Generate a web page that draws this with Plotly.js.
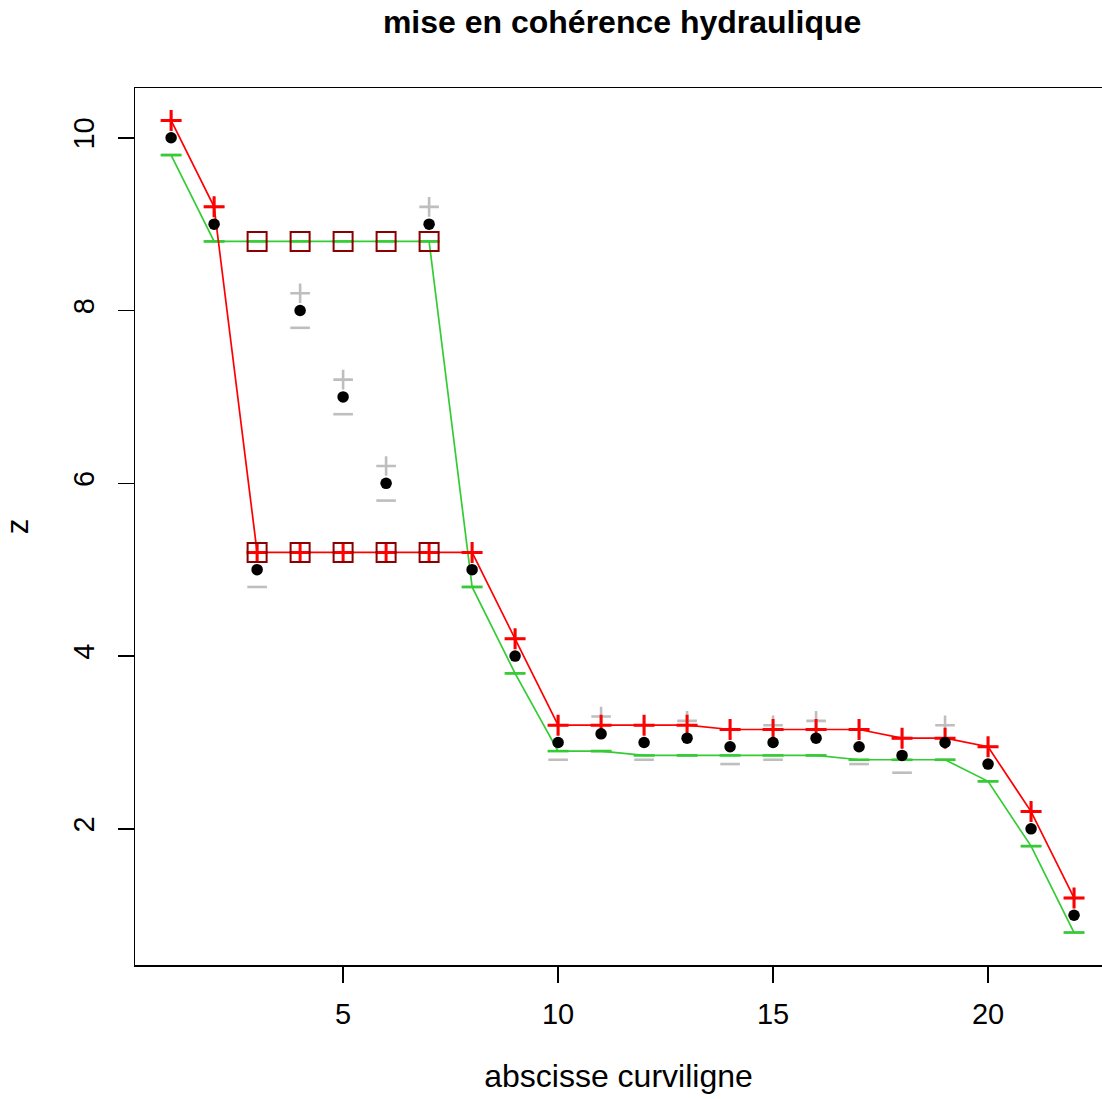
<!DOCTYPE html>
<html>
<head>
<meta charset="utf-8">
<script src="https://cdn.plot.ly/plotly-3.0.1.min.js"></script>
<style>html,body{margin:0;padding:0;background:#fff;}#chart{width:1102px;height:1099px;}</style>
</head>
<body>
<div id="chart"></div>
<script>
// abscisse curviligne (profile index)
var xs = [1,2,3,4,5,6,7,8,9,10,11,12,13,14,15,16,17,18,19,20,21,22];
// observed water levels z
var zObs = [10,9,5,8,7,6,9,5,4,3,3.1,3,3.05,2.95,3,3.05,2.95,2.85,3,2.75,2,1];
// initial uncertainty bounds (grey + / -)
var grayPlus  = [10.2,9.2,5.2,8.2,7.2,6.2,9.2,5.2,4.2,3.2,3.3,3.2,3.25,3.15,3.2,3.25,3.15,3.05,3.2,2.95,2.2,1.2];
var grayMinus = [9.8,8.8,4.8,7.8,6.8,5.8,8.8,4.8,3.8,2.8,2.9,2.8,2.85,2.75,2.8,2.85,2.75,2.65,2.8,2.55,1.8,0.8];
// hydraulically coherent bounds
var upperBound = [10.2,9.2,5.2,5.2,5.2,5.2,5.2,5.2,4.2,3.2,3.2,3.2,3.2,3.15,3.15,3.15,3.15,3.05,3.05,2.95,2.2,1.2];
var lowerBound = [9.8,8.8,8.8,8.8,8.8,8.8,8.8,4.8,3.8,2.9,2.9,2.85,2.85,2.85,2.85,2.85,2.8,2.8,2.8,2.55,1.8,0.8];
// modified points (squares)
var modX = [3,4,5,6,7];
var modUpper = [5.2,5.2,5.2,5.2,5.2];
var modLower = [8.8,8.8,8.8,8.8,8.8];

var FONT = 'Liberation Sans, Arial, Helvetica, sans-serif';
var grey = '#BEBEBE';
var green = '#33CC33';
var red = '#FF0000';
var darkred = '#8B0000';

var traces = [
  {x: xs, y: grayPlus, mode: 'markers', type: 'scatter',
   marker: {symbol: 'cross-thin-open', size: 14, color: grey, line: {color: grey, width: 2.6}}},
  {x: xs, y: grayMinus, mode: 'markers', type: 'scatter',
   marker: {symbol: 'line-ew-open', size: 14, color: grey, line: {color: grey, width: 2.6}}},
  {x: xs, y: lowerBound, mode: 'lines+markers', type: 'scatter',
   line: {color: green, width: 1.7},
   marker: {symbol: 'line-ew-open', size: 15, color: green, line: {color: green, width: 2.6}}},
  {x: xs, y: upperBound, mode: 'lines+markers', type: 'scatter',
   line: {color: red, width: 1.7},
   marker: {symbol: 'cross-thin-open', size: 15, color: red, line: {color: red, width: 3}}},
  {x: xs, y: zObs, mode: 'markers', type: 'scatter',
   marker: {symbol: 'circle', size: 11.5, color: '#000000'}},
  {x: modX.concat(modX), y: modUpper.concat(modLower), mode: 'markers', type: 'scatter',
   marker: {symbol: 'square-open', size: 19, color: darkred, line: {color: darkred, width: 2}}}
];

var layout = {
  width: 1102, height: 1099,
  margin: {l: 135, r: 0, t: 88, b: 134},
  paper_bgcolor: '#ffffff', plot_bgcolor: '#ffffff',
  showlegend: false,
  font: {family: FONT, color: '#000000', size: 29},
  title: {text: '<b>mise en cohérence hydraulique</b>', font: {family: FONT, size: 32, color: '#000'},
          xref: 'container', x: 0.5645, xanchor: 'center', yref: 'container', y: 1 - 22/1099, yanchor: 'middle'},
  xaxis: {range: [0.16, 22.65], tickvals: [5,10,15,20], ticktext: ['5','10','15','20'],
          showgrid: false, zeroline: false, showline: true, mirror: true, linecolor: '#000', linewidth: 1.5,
          ticks: 'outside', ticklen: 16, tickwidth: 1.5, tickcolor: '#000',
          tickfont: {size: 29}, ticklabelstandoff: 7,
          title: {text: 'abscisse curviligne', font: {size: 32}, standoff: 35}},
  yaxis: {range: [0.424, 10.576], tickvals: [2,4,6,8,10], ticktext: ['2','4','6','8','10'],
          showgrid: false, zeroline: false, showline: true, mirror: false, linecolor: '#000', linewidth: 1.5,
          ticks: 'outside', ticklen: 16, tickwidth: 1.5, tickcolor: '#000',
          tickangle: -90, tickfont: {size: 29}, ticklabelstandoff: 12,
          title: {text: 'z', font: {size: 31}, standoff: 32}}
};

Plotly.newPlot('chart', traces, layout, {displayModeBar: false, staticPlot: true});
</script>
</body>
</html>
